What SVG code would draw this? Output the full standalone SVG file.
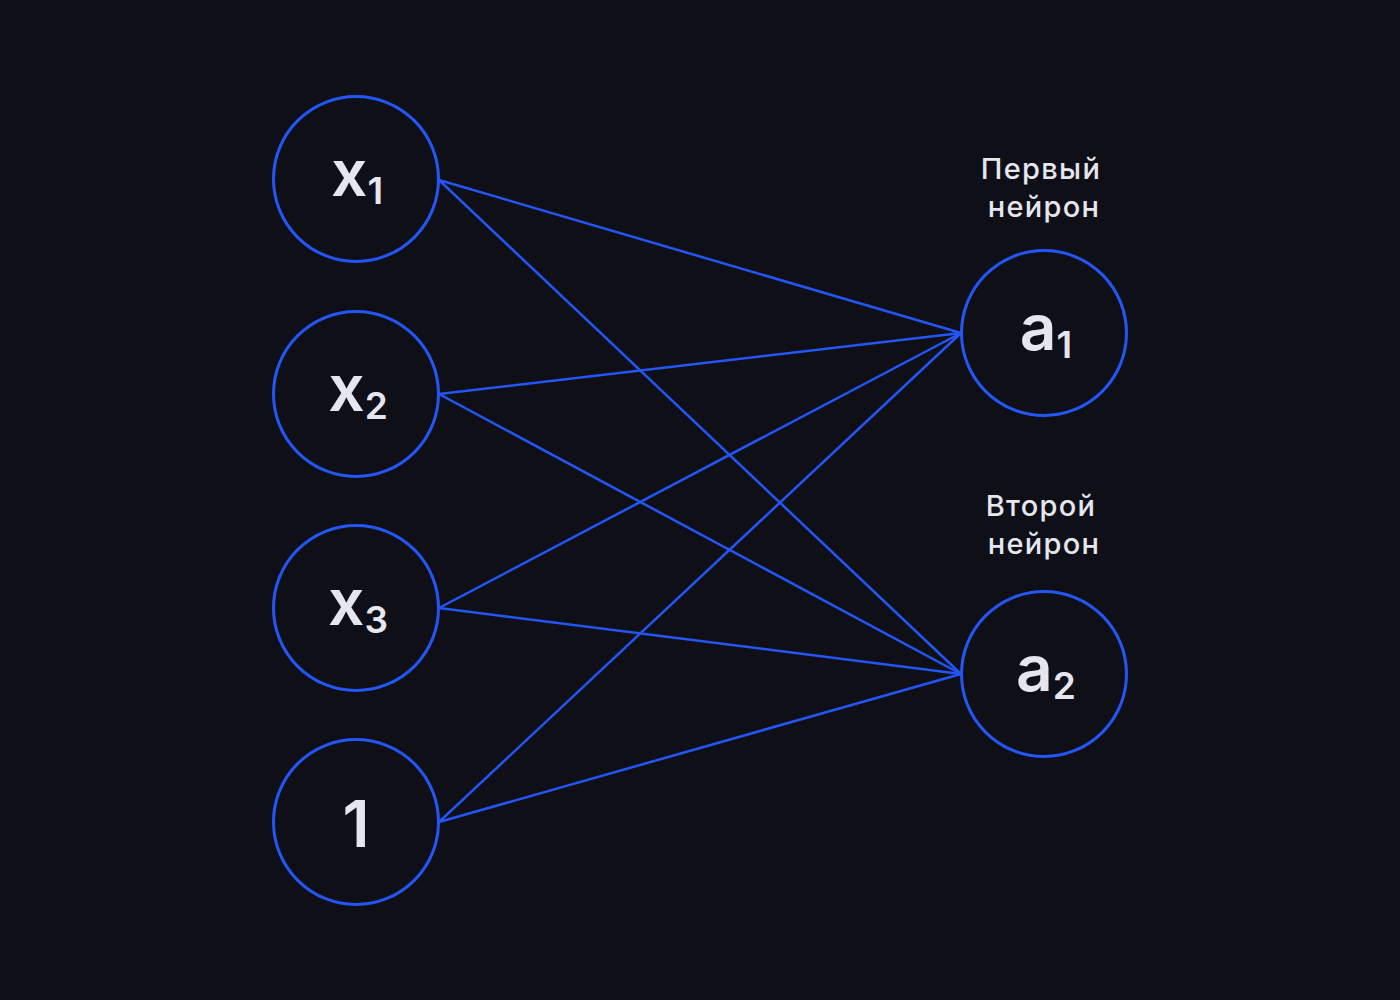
<svg xmlns="http://www.w3.org/2000/svg" width="1400" height="1000" viewBox="0 0 1400 1000">
<style>
.node{fill:#0e0f17;stroke:#2356f5;stroke-width:3}
.edge{stroke:#2356f5;stroke-width:2.5;fill:none}
.lbl{font-family:Inter,"Liberation Sans",sans-serif;font-weight:600;fill:#e6e6ee;text-anchor:middle}
.main{font-size:64px}
.sub{font-size:37px;font-weight:600}
.cap{font-family:Inter,"Liberation Sans",sans-serif;font-weight:500;font-size:29px;letter-spacing:1.3px;fill:#e6e6ee;text-anchor:middle}
</style>
<rect width="1400" height="1000" fill="#0e0f17"/>
<g id="connectors">
<line class="edge" x1="439" y1="180" x2="961" y2="333"/>
<line class="edge" x1="439" y1="180" x2="961" y2="674"/>
<line class="edge" x1="439" y1="394" x2="961" y2="333"/>
<line class="edge" x1="439" y1="394" x2="961" y2="674"/>
<line class="edge" x1="439" y1="608" x2="961" y2="333"/>
<line class="edge" x1="439" y1="608" x2="961" y2="674"/>
<line class="edge" x1="439" y1="822" x2="961" y2="333"/>
<line class="edge" x1="439" y1="822" x2="961" y2="674"/>
</g>
<g id="x1"><circle class="node" cx="356" cy="179" r="82.5"/><text class="lbl main" x="357" y="196">x<tspan class="sub" dy="8">1</tspan></text></g>
<g id="x2"><circle class="node" cx="356" cy="394" r="82.5"/><text class="lbl main" x="358" y="411">x<tspan class="sub" dy="8">2</tspan></text></g>
<g id="x3"><circle class="node" cx="356" cy="608" r="82.5"/><text class="lbl main" x="358" y="625">x<tspan class="sub" dy="8">3</tspan></text></g>
<g id="one"><circle class="node" cx="356" cy="822" r="82.5"/><text class="lbl main" x="356" y="847">1</text></g>
<g id="a1"><circle class="node" cx="1044" cy="333" r="82.5"/><text class="lbl main" x="1046" y="350">a<tspan class="sub" dy="8">1</tspan></text><text class="cap" x="1041" y="179">Первый</text><text class="cap" x="1044" y="217">нейрон</text></g>
<g id="a2"><circle class="node" cx="1044" cy="674" r="82.5"/><text class="lbl main" x="1046" y="691">a<tspan class="sub" dy="8">2</tspan></text><text class="cap" x="1041" y="516">Второй</text><text class="cap" x="1044" y="554">нейрон</text></g>
</svg>
